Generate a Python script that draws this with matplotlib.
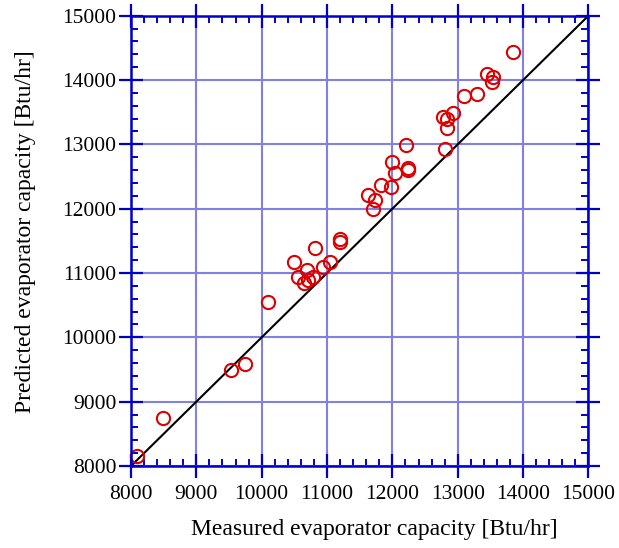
import matplotlib.pyplot as plt
from matplotlib.ticker import MultipleLocator

# measured vs predicted evaporator capacity, Btu/hr
measured = [8090, 8490, 9530, 9740, 10100, 10500, 10815, 11200, 11200,
            10560, 10690, 10640, 10715, 10790, 10945, 11045, 11705, 11630,
            11735, 11825, 11980, 11990, 12040, 12205, 12245, 12245, 12805,
            12770, 12830, 12830, 12920, 13095, 13300, 13440, 13545, 13520,
            13840]
predicted = [8160, 8750, 9490, 9580, 10550, 11175, 11395, 11530, 11480,
             10945, 11045, 10840, 10890, 10945, 11100, 11175, 11990, 12215,
             12135, 12365, 12335, 12730, 12560, 12990, 12630, 12600, 12920,
             13430, 13395, 13250, 13490, 13750, 13785, 14100, 14050, 13975,
             14440]
perfect = [8000, 15000]

plt.rcParams['font.family'] = ['Liberation Serif', 'DejaVu Serif']

blue = '#0000CC'
fig = plt.figure(figsize=(6.19, 5.48), dpi=100)
ax = fig.add_axes([0.2116, 0.1496, 0.7391, 0.8218])

ax.plot(perfect, perfect, color='black', lw=1.5, zorder=3)
ax.plot(measured, predicted, 'o', mfc='none', mec='#DD0000', ms=9.5, mew=1.5,
        zorder=4, clip_on=False)

ax.set_xlim(8000, 15000)
ax.set_ylim(8000, 15000)
ax.xaxis.set_major_locator(MultipleLocator(1000))
ax.yaxis.set_major_locator(MultipleLocator(1000))
ax.xaxis.set_minor_locator(MultipleLocator(200))
ax.yaxis.set_minor_locator(MultipleLocator(200))

ax.grid(True, which='major', color='#8080E6', lw=1.5, zorder=1)
for s in ax.spines.values():
    s.set_color(blue)
    s.set_linewidth(1.8)
    s.set_zorder(5)

ax.tick_params(which='major', direction='inout', length=17, width=1.6,
               color=blue, top=True, right=True, labelsize=15.5)
ax.tick_params(axis='x', which='major', pad=5)
ax.tick_params(axis='y', which='major', pad=2)
ax.tick_params(which='minor', direction='in', length=5, width=1.4,
               color=blue, top=True, right=True)

ax.set_xlabel('Measured evaporator capacity [Btu/hr]', fontsize=17, labelpad=11)
ax.set_ylabel('Predicted evaporator capacity [Btu/hr]', fontsize=17, labelpad=19)
ax.xaxis.label.set_x(0.531)
ax.yaxis.label.set_y(0.52)

fig.savefig('out.png', dpi=100)
